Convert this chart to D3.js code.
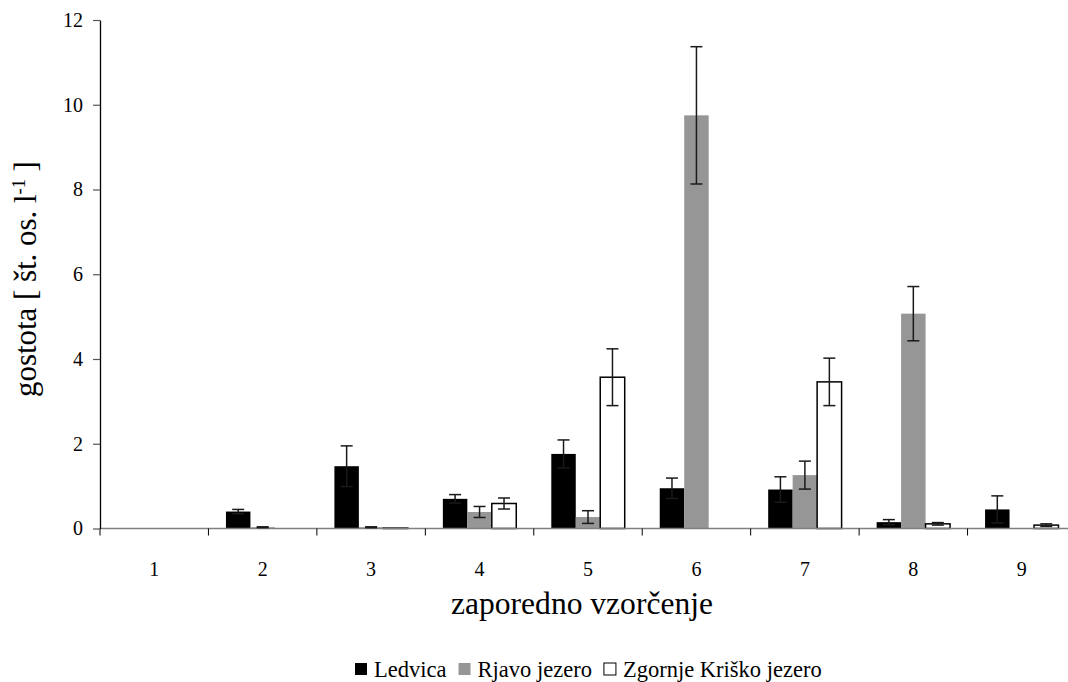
<!DOCTYPE html>
<html>
<head>
    <meta charset="utf-8">
    <style>
        body {
            margin: 0;
            background: white;
        }
    </style>
</head>
<body>
    <svg width="1068" height="682" font-family="Liberation Serif, Times New Roman, Tinos, DejaVu Serif, serif"></svg>

<script src="https://d3js.org/d3.v7.min.js"></script>
<script>
    // sampling number on the x axis
    let samples = ["1", "2", "3", "4", "5", "6", "7", "8", "9"]
    let seriesNames = ["Ledvica", "Rjavo jezero", "Zgornje Kriško jezero"]

    // mean density per sample
    let ledvica = [0.01, 0.40, 1.47, 0.70, 1.76, 0.95, 0.92, 0.15, 0.45]
    let rjavo = [0, 0.03, 0.03, 0.39, 0.27, 9.75, 1.26, 5.07, 0.01]
    let zgornje = [0, 0, 0.01, 0.59, 3.57, 0, 3.46, 0.11, 0.08]

    // error (+/-) per sample
    let ledvicaErr = [0, 0.05, 0.48, 0.10, 0.33, 0.24, 0.30, 0.06, 0.32]
    let rjavoErr = [0, 0.01, 0.01, 0.13, 0.15, 1.62, 0.33, 0.64, 0]
    let zgornjeErr = [0, 0, 0, 0.13, 0.67, 0, 0.56, 0.03, 0.03]

    let yTicks = [0, 2, 4, 6, 8, 10, 12]

    let fills = ["#000000", "#969696", "#ffffff"]

    let series = [
        { name: seriesNames[0], values: ledvica, err: ledvicaErr, fill: fills[0] },
        { name: seriesNames[1], values: rjavo, err: rjavoErr, fill: fills[1] },
        { name: seriesNames[2], values: zgornje, err: zgornjeErr, fill: fills[2] },
    ]

    // shrink / grow a text so it takes the given width (font is whatever is installed)
    function fitWidth(sel, target) {
        let w = sel.node().getComputedTextLength()
        let fs = parseFloat(sel.style("font-size"))
        sel.style("font-size", (fs * target / w) + "px")
    }

    let svg = d3.select("svg")

    let x = d3.scaleBand()
        .domain(samples)
        .range([100, 1076])
        .paddingInner(0.323)
        .paddingOuter(0.1615)

    let xSub = d3.scaleBand()
        .domain(d3.range(series.length))
        .range([0, x.bandwidth()])

    let y = d3.scaleLinear()
        .domain([0, 12])
        .range([528.5, 20])

    // bars
    series.forEach((s, si) => {
        svg.append("g")
            .selectAll("rect")
            .data(s.values)
            .join("rect")
            .attr("x", (d, i) => x(samples[i]) + xSub(si))
            .attr("width", xSub.bandwidth())
            .attr("y", d => y(d))
            .attr("height", d => y(0) - y(d))
            .style("fill", s.fill)
            .style("stroke", si == 2 ? "#000" : "none")
            .style("stroke-width", 1.5)
    })

    // x axis line + category ticks (ticks at category borders)
    let xAxis = svg.append("g")
    xAxis.append("line")
        .attr("x1", 100).attr("x2", 1068)
        .attr("y1", y(0)).attr("y2", y(0))
        .style("stroke", "#808080")
        .style("stroke-width", 1.3)

    let step = x.step()
    xAxis.selectAll(".xt")
        .data(samples)
        .join("line")
        .attr("class", "xt")
        .attr("x1", d => x(d) - x.paddingOuter() * step)
        .attr("x2", d => x(d) - x.paddingOuter() * step)
        .attr("y1", y(0))
        .attr("y2", y(0) + 7)
        .style("stroke", "#000")
        .style("stroke-width", 1)

    xAxis.selectAll(".xl")
        .data(samples)
        .join("text")
        .attr("class", "xl")
        .attr("x", d => x(d) + x.bandwidth() / 2)
        .attr("y", 576)
        .attr("text-anchor", "middle")
        .style("font-size", "20px")
        .text(d => d)

    // error bars
    let cap = 6
    series.forEach((s, si) => {
        let g = svg.append("g")
        s.values.forEach((v, i) => {
            let e = s.err[i]
            if (e <= 0) return
            let cx = x(samples[i]) + xSub(si) + xSub.bandwidth() / 2
            let lo = Math.max(0, v - e)
            let hi = v + e
            g.append("line")
                .attr("x1", cx).attr("x2", cx)
                .attr("y1", y(lo)).attr("y2", y(hi))
                .style("stroke", "#1a1a1a").style("stroke-width", 1.5)
            g.append("line")
                .attr("x1", cx - cap).attr("x2", cx + cap)
                .attr("y1", y(hi)).attr("y2", y(hi))
                .style("stroke", "#1a1a1a").style("stroke-width", 1.5)
            if (v - e > 0) {
                g.append("line")
                    .attr("x1", cx - cap).attr("x2", cx + cap)
                    .attr("y1", y(lo)).attr("y2", y(lo))
                    .style("stroke", "#1a1a1a").style("stroke-width", 1.5)
            }
        })
    })

    // y axis
    let yAxis = svg.append("g")
        .attr("transform", "translate(100,0)")
        .call(d3.axisLeft(y).tickValues(yTicks).tickSize(7).tickSizeOuter(0).tickPadding(10))
    yAxis.attr("font-family", null).attr("font-size", null)
    yAxis.selectAll(".tick text").style("font-size", "20px").attr("fill", "#000")
    yAxis.select(".domain").style("stroke", "#000").style("stroke-width", 1.3)
    yAxis.selectAll(".tick line").style("stroke", "#555").style("stroke-width", 1.2)

    // axis titles
    let xt = svg.append("text")
        .attr("x", 582)
        .attr("y", 614)
        .attr("text-anchor", "middle")
        .style("font-size", "28px")
        .text("zaporedno vzorčenje")
    fitWidth(xt, 262)

    let yt = svg.append("text")
        .attr("transform", "translate(36,279) rotate(-90)")
        .attr("text-anchor", "middle")
        .style("font-size", "28px")
    yt.append("tspan").text("gostota [ št. os. l")
    yt.append("tspan").attr("dy", -11).style("font-size", "0.6em").text("-1")
    yt.append("tspan").attr("dy", 11).text(" ]")
    fitWidth(yt, 236)

    // legend, laid out from measured text widths and centred like the reference
    let legend = svg.append("g")
    let legendItems = []
    series.forEach((s, si) => {
        let r = legend.append("rect")
            .attr("y", 663)
            .attr("width", 12)
            .attr("height", 12)
            .style("fill", s.fill)
            .style("stroke", si == 2 ? "#000" : "none")
            .style("stroke-width", 1)
        let t = legend.append("text")
            .attr("y", 677)
            .style("font-size", "20px")
            .text(s.name)
        legendItems.push({ r, t })
    })
    // fit legend text to the reference's overall legend width
    let textW = d3.sum(legendItems, d => d.t.node().getComputedTextLength())
    let legendTextTarget = 467 - 3 * 19 - 2 * 12
    legendItems.forEach(d => d.t.style("font-size", (20 * legendTextTarget / textW) + "px"))
    let lx = 355
    legendItems.forEach(d => {
        d.r.attr("x", lx)
        d.t.attr("x", lx + 19)
        lx += 19 + d.t.node().getComputedTextLength() + 12
    })
</script>
</body>
</html>
